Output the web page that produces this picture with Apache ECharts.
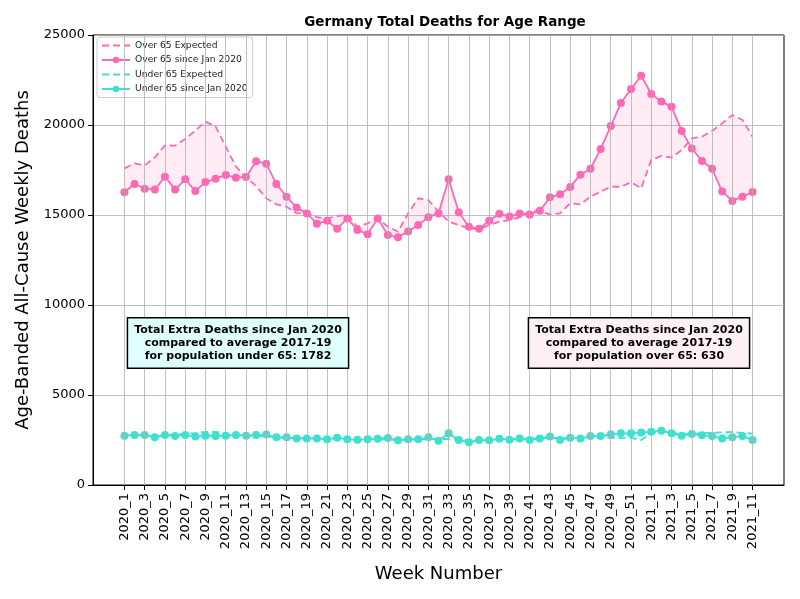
<!DOCTYPE html>
<html><head><meta charset="utf-8">
<script src="https://cdn.jsdelivr.net/npm/echarts@6/dist/echarts.min.js"></script>
<style>html,body{margin:0;padding:0;background:#fff}#c{width:800px;height:599px}</style>
</head><body><div id="c"></div>
<script>
const weeks = ['2020_1','2020_2','2020_3','2020_4','2020_5','2020_6','2020_7','2020_8','2020_9','2020_10',
'2020_11','2020_12','2020_13','2020_14','2020_15','2020_16','2020_17','2020_18','2020_19','2020_20',
'2020_21','2020_22','2020_23','2020_24','2020_25','2020_26','2020_27','2020_28','2020_29','2020_30',
'2020_31','2020_32','2020_33','2020_34','2020_35','2020_36','2020_37','2020_38','2020_39','2020_40',
'2020_41','2020_42','2020_43','2020_44','2020_45','2020_46','2020_47','2020_48','2020_49','2020_50',
'2020_51','2020_52','2021_1','2021_2','2021_3','2021_4','2021_5','2021_6','2021_7','2021_8',
'2021_9','2021_10','2021_11'];
const over65Actual = [16260,16720,16460,16410,17130,16410,16980,16330,16830,17020,
17220,17070,17110,17980,17850,16720,16020,15410,15090,14520,
14680,14240,14800,14170,13930,14800,13890,13760,14090,14450,
14880,15090,16980,15150,14350,14240,14680,15070,14910,15090,
15020,15240,15980,16150,16560,17240,17570,18670,19940,21220,
22000,22740,21720,21300,21020,19670,18700,18000,17570,16300,
15780,16020,16280];
const over65Expected = [17590,17870,17760,18200,18870,18850,19220,19690,20190,19910,
18800,17690,17090,16610,15930,15590,15460,15090,15130,14880,
14810,14940,15000,14350,14540,14810,14350,14070,15090,15930,
15830,15190,14630,14440,14260,14200,14440,14630,14720,14870,
15240,15190,15040,15090,15650,15590,16020,16300,16570,16570,
16820,16480,18060,18280,18190,18610,19260,19350,19670,20090,
20560,20280,19350];
const under65Actual = [2740,2780,2780,2650,2780,2720,2780,2690,2740,2720,
2740,2780,2740,2780,2800,2650,2650,2590,2590,2590,
2540,2630,2540,2520,2540,2570,2610,2480,2540,2540,
2650,2460,2870,2500,2370,2500,2480,2570,2520,2590,
2500,2590,2690,2500,2630,2590,2720,2720,2820,2870,
2870,2910,2960,3020,2870,2740,2830,2760,2720,2590,
2650,2720,2500];
const under65Expected = [2750,2780,2760,2700,2780,2800,2850,2880,2950,2950,
2850,2800,2750,2720,2700,2650,2620,2600,2590,2580,
2570,2560,2550,2540,2530,2540,2520,2500,2520,2530,
2560,2560,2550,2520,2500,2490,2500,2530,2550,2560,
2580,2600,2620,2620,2600,2620,2650,2600,2620,2600,
2620,2500,2900,3000,2900,2850,2850,2880,2900,2920,
2950,2900,2850];
const yTicks = [0,5000,10000,15000,20000,25000];
const xTickIdx = weeks.map((w,i)=>i).filter(i=>i%2===0);

const PINK = '#ff69b4', TURQ = '#40e0d0';
const FONT = '"DejaVu Sans", sans-serif';
const pairs = arr => arr.map((v,i)=>[i,v]);

function bandSeries(a, e, fill, extra){
  return Object.assign({
    type:'custom', silent:true, z:1,
    data:[[0, a[0], e[0]]],
    encode:{x:0, y:[1,2]},
    renderItem:function(params, api){
      const pts = [];
      for(let i=0;i<a.length;i++) pts.push(api.coord([i,a[i]]));
      for(let i=e.length-1;i>=0;i--) pts.push(api.coord([i,e[i]]));
      return {type:'polygon', shape:{points:pts}, style:{fill:fill, stroke:null}};
    }
  }, extra||{});
}

const chart = echarts.init(document.getElementById('c'));
chart.setOption({
  animation:false,
  backgroundColor:'#fff',
  title:{text:'Germany Total Deaths for Age Range', left:440, top:10, textAlign:'center',
    textStyle:{fontFamily:FONT, fontSize:13.5, fontWeight:'bold', color:'#000'}},
  grid:{left:93, right:16, top:35, bottom:114, show:true, borderColor:'#000', borderWidth:1, backgroundColor:'transparent'},
  legend:{
    data:[
      {name:'Over 65 Expected', itemStyle:{opacity:0}},
      {name:'Over 65 since Jan 2020'},
      {name:'Under 65 Expected', itemStyle:{opacity:0}},
      {name:'Under 65 since Jan 2020'}],
    orient:'vertical', left:97, top:37, itemWidth:28, itemHeight:8, itemGap:5.5,
    padding:[4,5,4,4], backgroundColor:'#fff', borderColor:'#ccc', borderWidth:1, borderRadius:3,
    textStyle:{fontFamily:FONT, fontSize:9.2, color:'#222'}
  },
  xAxis:{
    type:'value', min:-3.1, max:65.1,
    name:'Week Number', nameLocation:'middle', nameGap:80,
    nameTextStyle:{fontFamily:FONT, fontSize:18, color:'#000'},
    axisLine:{show:true, onZero:false, lineStyle:{color:'#000'}},
    axisTick:{show:true, length:5, customValues:xTickIdx, lineStyle:{color:'#000'}},
    axisLabel:{customValues:xTickIdx, rotate:90, margin:8, fontFamily:FONT, fontSize:13, color:'#000',
      formatter:v=>weeks[Math.round(v)]},
    splitLine:{show:false}
  },
  yAxis:{
    type:'value', min:0, max:25000, interval:5000,
    name:'Age-Banded All-Cause Weekly Deaths', nameLocation:'middle', nameGap:55,
    nameTextStyle:{fontFamily:FONT, fontSize:18, color:'#000'},
    axisLine:{show:true, onZero:false, lineStyle:{color:'#000'}},
    axisTick:{show:true, length:5, lineStyle:{color:'#000'}},
    axisLabel:{fontFamily:FONT, fontSize:13, color:'#000', margin:8, formatter:v=>String(v)},
    splitLine:{show:true, lineStyle:{color:'#b0b0b0', width:0.8}}
  },
  graphic:[
    {type:'text', x:238, y:343, z:100, style:{
      text:'Total Extra Deaths since Jan 2020\ncompared to average 2017-19\nfor population under 65: 1782',
      align:'center', verticalAlign:'middle', font:'bold 11px "DejaVu Sans"', fill:'#000', lineHeight:13,
      backgroundColor:'#e0ffff', borderColor:'#000', borderWidth:1.5, padding:[5,6,5,6]}},
    {type:'text', x:639, y:343, z:100, style:{
      text:'Total Extra Deaths since Jan 2020\ncompared to average 2017-19\nfor population over 65: 630',
      align:'center', verticalAlign:'middle', font:'bold 11px "DejaVu Sans"', fill:'#000', lineHeight:13,
      backgroundColor:'#fff0f5', borderColor:'#000', borderWidth:1.5, padding:[5,6,5,6]}}
  ],
  series:[
    bandSeries(over65Actual, over65Expected, 'rgba(255,105,180,0.13)', {
      markLine:{silent:true, symbol:'none', label:{show:false}, animation:false,
        lineStyle:{color:'#b0b0b0', width:0.8, type:'solid'},
        data:xTickIdx.map(i=>({xAxis:i}))}
    }),
    bandSeries(under65Actual, under65Expected, 'rgba(64,224,208,0.13)'),
    {name:'Over 65 Expected', type:'line', data:pairs(over65Expected), symbol:'none', z:3,
      itemStyle:{color:PINK}, lineStyle:{color:PINK, width:1.8, type:[7,4]}},
    {name:'Over 65 since Jan 2020', type:'line', data:pairs(over65Actual), symbol:'circle', symbolSize:8, z:4,
      itemStyle:{color:PINK}, lineStyle:{color:PINK, width:1.8}},
    {name:'Under 65 Expected', type:'line', data:pairs(under65Expected), symbol:'none', z:3,
      itemStyle:{color:TURQ}, lineStyle:{color:TURQ, width:1.8, type:[7,4]}},
    {name:'Under 65 since Jan 2020', type:'line', data:pairs(under65Actual), symbol:'circle', symbolSize:8, z:4,
      itemStyle:{color:TURQ}, lineStyle:{color:TURQ, width:1.8}}
  ]
});
</script></body></html>
